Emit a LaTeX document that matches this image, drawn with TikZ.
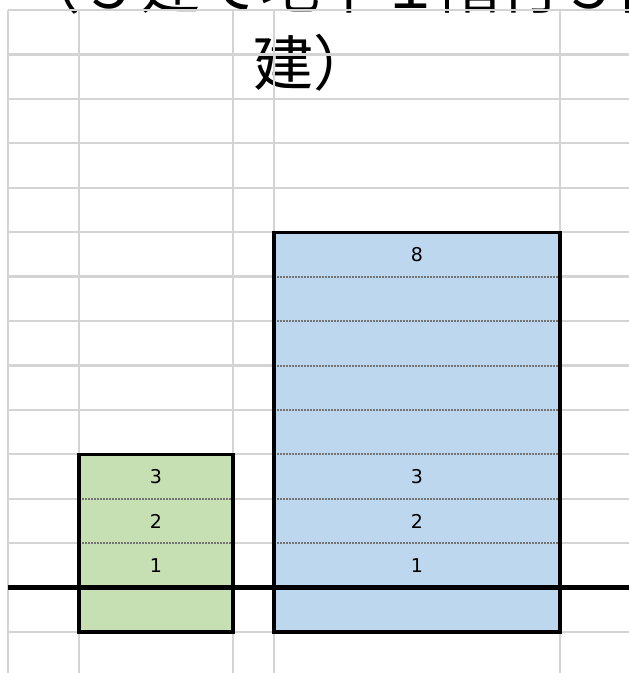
\documentclass[tikz,border=0pt]{standalone}
\usepackage{fontspec}
\setmainfont{DejaVu Sans}
\newfontfamily\cjk{Noto Sans CJK JP}
\definecolor{gridgray}{HTML}{D4D4D4}
\definecolor{lowfill}{HTML}{C6E0B4}
\definecolor{highfill}{HTML}{BDD7EE}
\tikzset{
	gridline/.style={draw=gridgray, line width=2.2pt},
	floorline/.style={densely dotted, line width=2pt, black!55},
	wallline/.style={draw=black, line width=3.2pt},
	floorlabel/.style={inner sep=0, font=\fontsize{19}{19}\selectfont},
	titletext/.style={anchor=base west, inner sep=0, font=\cjk\fontsize{60}{60}\selectfont},
}
\begin{document}
\begin{tikzpicture}[x=1pt, y=-1pt]
	\useasboundingbox (0,0) rectangle (629,673);
	\clip (0,0) rectangle (629,673);

	\node[titletext] (title1) at (20,8) {（５建て地下１階付５階};
	\node[titletext] (title2) at (253,85) {建）};

	% grid
	\foreach \x in {8,79,233,274,560}
		\draw[gridline] (\x,10) -- (\x,673);
	\foreach \k in {0,...,14}
		\draw[gridline] (8,10+44.43*\k) -- (629,10+44.43*\k);

	\coordinate (lowtl) at (79,454.3);
	\coordinate (lowbr) at (233,632.0);
	\coordinate (hightl) at (274,232.2);
	\coordinate (highbr) at (560,632.0);

	\fill[lowfill] (lowtl) rectangle (lowbr);
	\fill[highfill] (hightl) rectangle (highbr);
	\foreach \y in {498.7,543.2}
		\draw[floorline] (79,\y) -- (233,\y);
	\foreach \y in {276.6,321.0,365.5,409.9,454.3,498.7,543.2}
		\draw[floorline] (274,\y) -- (560,\y);
	\draw[wallline] (lowtl) rectangle (lowbr);
	\draw[wallline] (hightl) rectangle (highbr);

	% ground
	\draw[line width=4.5pt] (8,587.6) -- (629,587.6);

	\node[floorlabel] (low3) at (156,476.5) {3};
	\node[floorlabel] (low2) at (156,521.0) {2};
	\node[floorlabel] (low1) at (156,565.4) {1};
	\node[floorlabel] (high8) at (417,254.4) {8};
	\node[floorlabel] (high3) at (417,476.5) {3};
	\node[floorlabel] (high2) at (417,521.0) {2};
	\node[floorlabel] (high1) at (417,565.4) {1};
\end{tikzpicture}
\end{document}
